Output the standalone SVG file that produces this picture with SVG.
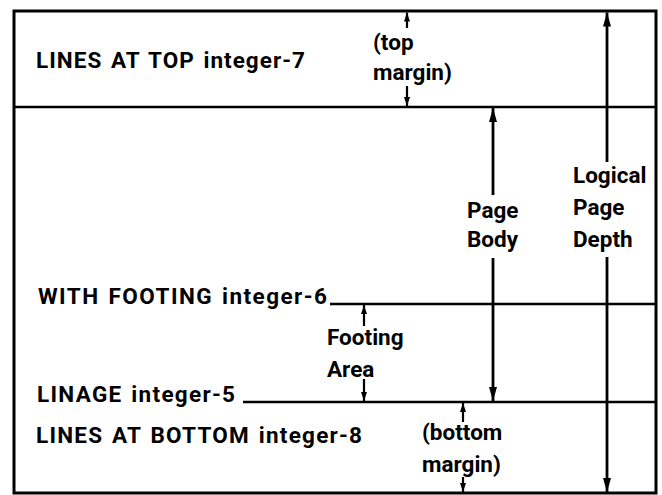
<svg xmlns="http://www.w3.org/2000/svg" width="662" height="495" viewBox="0 0 662 495">
<defs>
<style>
text{font-family:Roboto,"Liberation Sans",Arial,sans-serif;font-weight:700;font-size:22.5px;fill:#000}
.wide{word-spacing:2px}
.rule{stroke:#000;stroke-width:2.5;fill:none}
.big{stroke:#000;stroke-width:2.8;marker-end:url(#hb)}
.sm{stroke:#000;stroke-width:2.2;marker-end:url(#hs)}
</style>
<marker id="hb" viewBox="0 0 14 8" refX="14" refY="4" markerWidth="14" markerHeight="8" markerUnits="userSpaceOnUse" orient="auto"><path d="M0,0 L14,4 L0,8 Z" fill="#000"/></marker>
<marker id="hs" viewBox="0 0 9 6" refX="9" refY="3" markerWidth="9" markerHeight="6" markerUnits="userSpaceOnUse" orient="auto"><path d="M0,0 L9,3 L0,6 Z" fill="#000"/></marker>
</defs>
<rect width="662" height="495" fill="#fff"/>
<g id="frame">
<rect x="14" y="11" width="642" height="482" fill="none" stroke="#000" stroke-width="3"/>
<line class="rule" x1="14" y1="107" x2="656" y2="107"/>
<line class="rule" x1="330" y1="304" x2="656" y2="304"/>
<line class="rule" x1="243" y1="402" x2="656" y2="402"/>
</g>
<g id="lines-at-top"><text class="wide" x="36" y="68" textLength="269" lengthAdjust="spacing">LINES AT TOP integer-7</text></g>
<g id="with-footing"><text class="wide" x="38" y="304" textLength="289" lengthAdjust="spacing">WITH FOOTING integer-6</text></g>
<g id="linage"><text class="wide" x="37" y="402" textLength="198" lengthAdjust="spacing">LINAGE integer-5</text></g>
<g id="lines-at-bottom"><text class="wide" x="36" y="443" textLength="326" lengthAdjust="spacing">LINES AT BOTTOM integer-8</text></g>
<g id="top-margin"><text x="373" y="50">(top</text><text x="373" y="80">margin)</text></g>
<g id="page-body"><text x="467" y="218">Page</text><text x="467" y="247">Body</text></g>
<g id="logical-page-depth"><text x="573" y="183">Logical</text><text x="573" y="215">Page</text><text x="573" y="247">Depth</text></g>
<g id="footing-area"><text x="327" y="345">Footing</text><text x="327" y="377">Area</text></g>
<g id="bottom-margin"><text x="422" y="440">(bottom</text><text x="422" y="472">margin)</text></g>
<g id="connectors">
<line class="sm" x1="407" y1="28" x2="407" y2="12.5"/>
<line class="sm" x1="407" y1="86" x2="407" y2="106"/>
<line class="big" x1="607" y1="162" x2="607" y2="12.5"/>
<line class="big" x1="607" y1="257" x2="607" y2="492"/>
<line class="big" x1="493" y1="195" x2="493" y2="108"/>
<line class="big" x1="493" y1="258" x2="493" y2="401"/>
<line class="sm" x1="364" y1="326" x2="364" y2="305"/>
<line class="sm" x1="364" y1="379" x2="364" y2="401"/>
<line class="sm" x1="463" y1="422" x2="463" y2="403"/>
<line class="sm" x1="463" y1="477" x2="463" y2="492"/>
</g>
</svg>
